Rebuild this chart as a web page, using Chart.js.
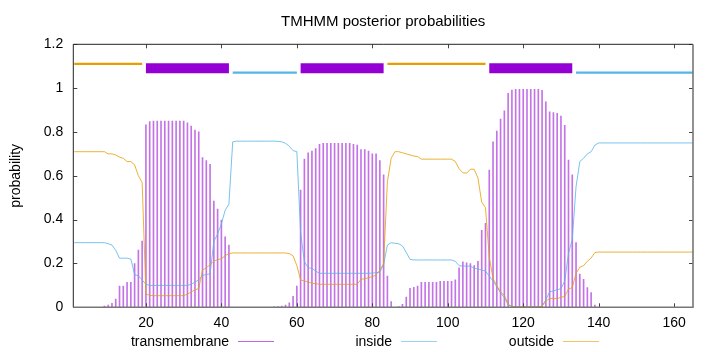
<!DOCTYPE html>
<html>
<head>
<meta charset="utf-8">
<script src="https://cdn.jsdelivr.net/npm/chart.js@4"></script>
<style>
  html, body { margin: 0; padding: 0; background: #fff; }
  canvas { display: block; }
</style>
</head>
<body>
<canvas id="tmhmm" width="720" height="352"></canvas>
<script>
// Data, one value per residue (residue 1 first)
const tmProb = [
  0, 0, 0, 0, 0, 0, 0, 0, 0.005, 0.01,
  0.018, 0.038, 0.097, 0.097, 0.114, 0.114, 0.2, 0.261, 0.302, 0.832,
  0.847, 0.85, 0.85, 0.85, 0.85, 0.85, 0.85, 0.85, 0.85, 0.85,
  0.842, 0.827, 0.809, 0.801, 0.683, 0.669, 0.652, 0.485, 0.448, 0.398,
  0.322, 0.284, 0, 0, 0, 0, 0, 0, 0, 0,
  0, 0, 0, 0.002, 0.003, 0.005, 0.01, 0.02, 0.05, 0.097,
  0.535, 0.676, 0.705, 0.713, 0.724, 0.744, 0.748, 0.748, 0.748, 0.748,
  0.748, 0.748, 0.748, 0.748, 0.744, 0.74, 0.72, 0.72, 0.713, 0.7,
  0.7, 0.67, 0.604, 0.143, 0.026, 0, 0.003, 0.014, 0.047, 0.087,
  0.091, 0.097, 0.114, 0.114, 0.114, 0.114, 0.114, 0.118, 0.118, 0.118,
  0.118, 0.125, 0.18, 0.207, 0.203, 0.2, 0.19, 0.21, 0.351, 0.383,
  0.626, 0.755, 0.804, 0.859, 0.897, 0.976, 0.991, 0.995, 0.995, 0.995,
  0.995, 0.995, 0.995, 0.995, 0.99, 0.937, 0.892, 0.889, 0.885, 0.873,
  0.83, 0.672, 0.604, 0.295, 0.152, 0.128, 0.09, 0.067, 0.01, 0,
  0, 0, 0, 0, 0, 0, 0, 0, 0, 0,
  0, 0, 0, 0, 0, 0, 0, 0, 0, 0,
  0, 0, 0, 0, 0
];
const insideProb = [
  0.295, 0.295, 0.295, 0.295, 0.295, 0.295, 0.295, 0.295, 0.295, 0.29,
  0.284, 0.26, 0.224, 0.224, 0.224, 0.22, 0.15, 0.143, 0.125, 0.105,
  0.1, 0.1, 0.1, 0.1, 0.1, 0.1, 0.1, 0.1, 0.1, 0.1,
  0.1, 0.105, 0.115, 0.125, 0.145, 0.15, 0.152, 0.3, 0.335, 0.38,
  0.443, 0.471, 0.755, 0.758, 0.758, 0.758, 0.758, 0.758, 0.758, 0.758,
  0.758, 0.758, 0.758, 0.758, 0.757, 0.755, 0.748, 0.735, 0.715, 0.71,
  0.34, 0.208, 0.18, 0.178, 0.165, 0.155, 0.155, 0.155, 0.155, 0.155,
  0.155, 0.155, 0.155, 0.155, 0.155, 0.155, 0.155, 0.155, 0.155, 0.156,
  0.158, 0.16, 0.195, 0.284, 0.295, 0.292, 0.29, 0.28, 0.25, 0.219,
  0.216, 0.216, 0.216, 0.216, 0.216, 0.216, 0.216, 0.216, 0.216, 0.216,
  0.216, 0.21, 0.19, 0.188, 0.188, 0.188, 0.178, 0.175, 0.17, 0.165,
  0.143, 0.12, 0.094, 0.065, 0.045, 0.01, 0.005, 0.002, 0.002, 0.002,
  0.002, 0.002, 0.002, 0.002, 0.005, 0.035, 0.07, 0.075, 0.08, 0.085,
  0.12, 0.245, 0.31, 0.55, 0.665, 0.68, 0.7, 0.71, 0.74, 0.75,
  0.75, 0.75, 0.75, 0.75, 0.75, 0.75, 0.75, 0.75, 0.75, 0.75,
  0.75, 0.75, 0.75, 0.75, 0.75, 0.75, 0.75, 0.75, 0.75, 0.75,
  0.75, 0.75, 0.75, 0.75, 0.75
];
const outsideProb = [
  0.71, 0.71, 0.71, 0.71, 0.71, 0.71, 0.71, 0.71, 0.71, 0.7,
  0.7, 0.695, 0.685, 0.68, 0.665, 0.665, 0.65, 0.6, 0.57, 0.06,
  0.055, 0.053, 0.053, 0.053, 0.053, 0.053, 0.053, 0.053, 0.053, 0.053,
  0.06, 0.07, 0.08, 0.085, 0.17, 0.18, 0.195, 0.211, 0.217, 0.222,
  0.235, 0.245, 0.248, 0.248, 0.248, 0.248, 0.248, 0.248, 0.248, 0.248,
  0.248, 0.248, 0.248, 0.248, 0.248, 0.248, 0.248, 0.245, 0.235, 0.19,
  0.125, 0.12, 0.115, 0.11, 0.108, 0.105, 0.105, 0.105, 0.105, 0.105,
  0.105, 0.105, 0.105, 0.105, 0.105, 0.105, 0.128, 0.13, 0.135, 0.14,
  0.147, 0.17, 0.2, 0.573, 0.68, 0.71, 0.71, 0.705, 0.7, 0.695,
  0.69, 0.688, 0.676, 0.676, 0.676, 0.676, 0.676, 0.676, 0.676, 0.676,
  0.676, 0.665, 0.632, 0.614, 0.612, 0.63, 0.63, 0.59, 0.48, 0.455,
  0.23, 0.13, 0.1, 0.07, 0.055, 0.015, 0.004, 0.002, 0.002, 0.002,
  0.002, 0.002, 0.002, 0.002, 0.005, 0.028, 0.04, 0.04, 0.04, 0.045,
  0.05, 0.083, 0.09, 0.155, 0.183, 0.19, 0.21, 0.225, 0.25, 0.252,
  0.252, 0.252, 0.252, 0.252, 0.252, 0.252, 0.252, 0.252, 0.252, 0.252,
  0.252, 0.252, 0.252, 0.252, 0.252, 0.252, 0.252, 0.252, 0.252, 0.252,
  0.252, 0.252, 0.252, 0.252, 0.252
];

// predicted topology (first and last residue of each piece)
const tmSegments = [[20, 42], [61, 83], [111, 133]];
const insideSegments = [[43, 60], [134, 165]];
const outsideSegments = [[1, 19], [84, 110]];

const xTicks = [20, 40, 60, 80, 100, 120, 140, 160];
const yTicks = [0, 0.2, 0.4, 0.6, 0.8, 1, 1.2];
const seriesNames = ["transmembrane", "inside", "outside"];
const chartTitle = "TMHMM posterior probabilities";
const yTitle = "probability";

const PURPLE = "#9400D3";
const BLUE = "#56B4E9";
const ORANGE = "#E69F00";
const FONT = '"Liberation Sans", Arial, sans-serif';

const toPoints = arr => arr.map((v, i) => ({ x: i + 1, y: v }));

function segmentSets(segs, y, color, width) {
  return segs.map(s => ({
    type: "line",
    data: [{ x: s[0], y: y }, { x: s[1], y: y }],
    borderColor: color,
    borderWidth: width,
    borderCapStyle: "butt",
    pointRadius: 0,
    order: 5
  }));
}

// Titles, legend, inward ticks and border
const frame = {
  id: "frame",
  afterDraw(chart) {
    const { ctx, chartArea: a, scales: { x, y } } = chart;
    ctx.save();
    ctx.strokeStyle = "#444";
    ctx.lineWidth = 1;
    ctx.beginPath();
    xTicks.forEach(v => {
      const px = Math.round(x.getPixelForValue(v)) + 0.5;
      ctx.moveTo(px, a.bottom); ctx.lineTo(px, a.bottom - 4);
      ctx.moveTo(px, a.top); ctx.lineTo(px, a.top + 4);
    });
    yTicks.forEach(v => {
      const py = Math.round(y.getPixelForValue(v)) + 0.5;
      ctx.moveTo(a.left, py); ctx.lineTo(a.left + 4, py);
      ctx.moveTo(a.right, py); ctx.lineTo(a.right - 4, py);
    });
    ctx.stroke();

    // border
    ctx.strokeStyle = "#222";
    ctx.beginPath();
    ctx.moveTo(a.left, a.bottom); ctx.lineTo(a.left, a.top); ctx.lineTo(a.right, a.top);
    ctx.stroke();
    ctx.strokeStyle = "#777";
    ctx.lineWidth = 1.6;
    ctx.beginPath();
    ctx.moveTo(a.left, a.bottom); ctx.lineTo(a.right, a.bottom); ctx.lineTo(a.right, a.top);
    ctx.stroke();

    ctx.fillStyle = "#000";
    ctx.font = "15px " + FONT;
    ctx.textAlign = "center";
    ctx.textBaseline = "alphabetic";
    ctx.fillText(chartTitle, (a.left + a.right) / 2, 26);

    ctx.font = "14px " + FONT;
    ctx.save();
    ctx.translate(20, (a.top + a.bottom) / 2);
    ctx.rotate(-Math.PI / 2);
    ctx.fillText(yTitle, 0, 0);
    ctx.restore();

    // key: text then sample line
    const keyColors = [PURPLE, BLUE, ORANGE];
    const keyRight = [229, 392, 554];
    ctx.textAlign = "right";
    seriesNames.forEach((name, i) => {
      ctx.fillStyle = "#000";
      ctx.fillText(name, keyRight[i], 346);
      ctx.strokeStyle = keyColors[i];
      ctx.globalAlpha = 0.6;
      ctx.lineWidth = 1;
      ctx.beginPath();
      ctx.moveTo(keyRight[i] + 9, 341.5);
      ctx.lineTo(keyRight[i] + 45, 341.5);
      ctx.stroke();
      ctx.globalAlpha = 1;
    });
    ctx.restore();
  }
};

new Chart(document.getElementById("tmhmm"), {
  type: "line",
  data: {
    datasets: [
      {
        label: seriesNames[2],
        data: toPoints(outsideProb),
        borderColor: "rgba(230,159,0,0.8)",
        borderWidth: 1,
        pointRadius: 0,
        order: 0
      },
      {
        label: seriesNames[1],
        data: toPoints(insideProb),
        borderColor: "rgba(86,180,233,0.8)",
        borderWidth: 1,
        pointRadius: 0,
        order: 1
      },
      {
        type: "bar",
        label: seriesNames[0],
        data: toPoints(tmProb),
        backgroundColor: "rgba(148,0,211,0.55)",
        barThickness: 1,
        grouped: false,
        order: 2
      },
      ...segmentSets(outsideSegments, 1.111, ORANGE, 2.3),
      ...segmentSets(tmSegments, 1.0905, PURPLE, 10),
      ...segmentSets(insideSegments, 1.071, BLUE, 2.3)
    ]
  },
  options: {
    responsive: false,
    animation: false,
    devicePixelRatio: 1,
    layout: { padding: { left: 0, right: 27, top: 44.3, bottom: 0 } },
    plugins: {
      legend: { display: false },
      tooltip: { enabled: false },
      title: { display: false }
    },
    scales: {
      x: {
        type: "linear",
        min: 0.75,
        max: 165,
        offset: false,
        grid: { display: false, drawTicks: false },
        border: { display: false },
        afterBuildTicks: s => { s.ticks = xTicks.map(v => ({ value: v })); },
        afterFit: s => { s.height = 352 - 307.3; },
        ticks: {
          autoSkip: false,
          maxRotation: 0,
          padding: 7,
          color: "#000",
          font: { family: FONT, size: 14 }
        }
      },
      y: {
        min: 0,
        max: 1.2,
        grid: { display: false, drawTicks: false },
        border: { display: false },
        afterBuildTicks: s => { s.ticks = yTicks.map(v => ({ value: v })); },
        afterFit: s => { s.width = 73.3; },
        ticks: {
          padding: 10,
          color: "#000",
          font: { family: FONT, size: 14 },
          callback: v => String(+v.toFixed(1))
        }
      }
    }
  },
  plugins: [frame]
});
</script>
</body>
</html>
